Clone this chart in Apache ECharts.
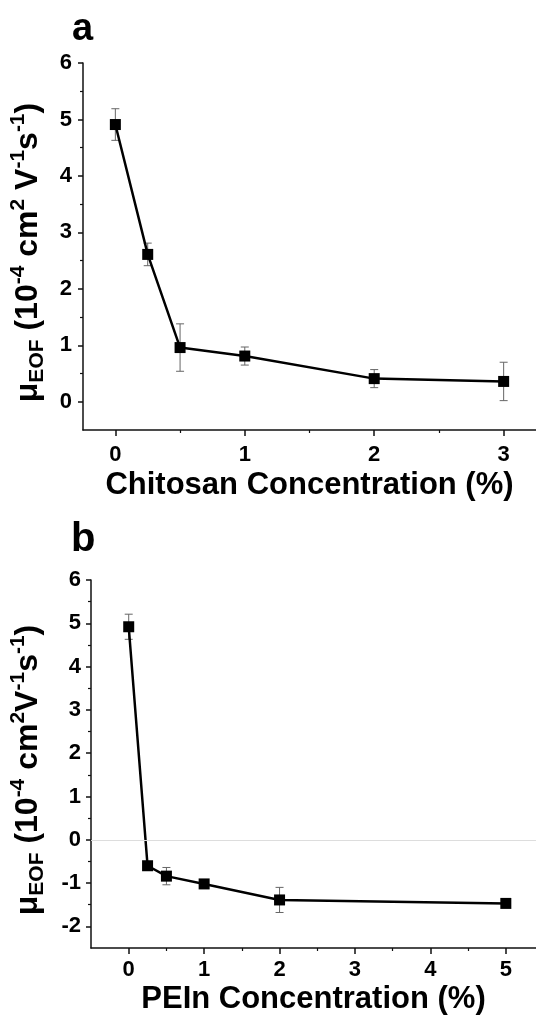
<!DOCTYPE html>
<html>
<head>
<meta charset="utf-8">
<script src="https://cdn.jsdelivr.net/npm/echarts@6/dist/echarts.min.js"></script>
<style>
  html, body { margin: 0; padding: 0; background: #fff; }
  #chart { width: 536px; height: 1016px; }
</style>
</head>
<body>
<div id="chart"></div>
<script>
// panel a - chitosan
var chitosanX = [0, 0.25, 0.5, 1, 2, 3]
var chitosanY = [4.91, 2.61, 0.96, 0.81, 0.41, 0.36]
var chitosanErr = [0.28, 0.2, 0.42, 0.16, 0.16, 0.34]

// panel b - PEIn
var peinX = [0, 0.25, 0.5, 1, 2, 5]
var peinY = [4.92, -0.6, -0.84, -1.02, -1.39, -1.47]
var peinErr = [0.29, 0, 0.2, 0, 0.29, 0]

// tick values
var xTicksA = [0, 1, 2, 3]
var xMinorA = [0.5, 1.5, 2.5]
var yTicksA = [0, 1, 2, 3, 4, 5, 6]
var yMinorA = [0.5, 1.5, 2.5, 3.5, 4.5, 5.5]
var xTicksB = [0, 1, 2, 3, 4, 5]
var xMinorB = [0.5, 1.5, 2.5, 3.5, 4.5]
var yTicksB = [-2, -1, 0, 1, 2, 3, 4, 5, 6]
var yMinorB = [-1.5, -0.5, 0.5, 1.5, 2.5, 3.5, 4.5, 5.5]

var FONT = '"Liberation Sans", Arial, sans-serif'

var myChart = echarts.init(document.getElementById('chart'), null, {renderer: 'canvas'})

function pairs (xs, ys) {
  return xs.map(function (x, i) { return [x, ys[i]] })
}

// y 轴标题 (rich text)
function yName (space) {
  return '{t|μ}{sub|EOF}{t| (10}{sup|-4}{t| cm}{sup|2}{t|' + space + 'V}{sup|-1}{t|s}{sup|-1}{t|)}'
}
var yRich = {
  t: {fontSize: 32, fontWeight: 'bold', fontFamily: FONT, color: '#000', lineHeight: 40, verticalAlign: 'middle'},
  sup: {fontSize: 21, fontWeight: 'bold', fontFamily: FONT, color: '#000', lineHeight: 21, verticalAlign: 'top'},
  sub: {fontSize: 21, fontWeight: 'bold', fontFamily: FONT, color: '#000', lineHeight: 21, verticalAlign: 'bottom'}
}

function mainX (grid, min, max, ticks, name, gap, margin) {
  return {
    type: 'value', gridIndex: grid, position: 'bottom', min: min, max: max,
    name: name, nameLocation: 'middle', nameGap: gap,
    nameTextStyle: {fontSize: 31, fontWeight: 'bold', fontFamily: FONT, color: '#000'},
    axisLine: {show: true, onZero: false, lineStyle: {color: '#111', width: 1.5}},
    axisTick: {show: true, customValues: ticks, length: 6, lineStyle: {color: '#111', width: 1.5}},
    axisLabel: {customValues: ticks, margin: margin, fontSize: 22, fontWeight: 'bold', fontFamily: FONT, color: '#000'},
    splitLine: {show: false}
  }
}
function minorX (grid, min, max, ticks) {
  return {
    type: 'value', gridIndex: grid, position: 'bottom', min: min, max: max,
    axisLine: {show: false, onZero: false},
    axisTick: {show: true, customValues: ticks, length: 3, lineStyle: {color: '#111', width: 1.2}},
    axisLabel: {show: false},
    splitLine: {show: false}
  }
}
function mainY (grid, min, max, ticks, gap, margin, space) {
  return {
    type: 'value', gridIndex: grid, position: 'left', min: min, max: max,
    name: yName(space), nameLocation: 'middle', nameGap: gap, nameRotate: 90,
    nameTextStyle: {rich: yRich, padding: [0, 0, 0, -12]},
    axisLine: {show: true, onZero: false, lineStyle: {color: '#111', width: 1.5}},
    axisTick: {show: true, customValues: ticks, length: 5, lineStyle: {color: '#111', width: 1.5}},
    axisLabel: {customValues: ticks, margin: margin, fontSize: 22, fontWeight: 'bold', fontFamily: FONT, color: '#000'},
    splitLine: {show: false}
  }
}
function minorY (grid, min, max, ticks) {
  return {
    type: 'value', gridIndex: grid, position: 'left', min: min, max: max,
    axisLine: {show: false, onZero: false},
    axisTick: {show: true, customValues: ticks, length: 3, lineStyle: {color: '#111', width: 1.2}},
    axisLabel: {show: false},
    splitLine: {show: false}
  }
}

function lineSeries (xs, ys, xi, yi, extra) {
  var s = {
    type: 'line', xAxisIndex: xi, yAxisIndex: yi,
    data: pairs(xs, ys),
    symbol: 'rect', symbolSize: 11,
    itemStyle: {color: '#000'},
    lineStyle: {color: '#000', width: 2.5},
    z: 3
  }
  if (extra) s.markLine = extra
  return s
}

// 误差棒
function errorSeries (xs, ys, errs, xi, yi) {
  var data = []
  xs.forEach(function (x, i) {
    if (errs[i] > 0) data.push([x, ys[i] - errs[i], ys[i] + errs[i]])
  })
  return {
    type: 'custom', xAxisIndex: xi, yAxisIndex: yi, data: data, z: 2,
    renderItem: function (params, api) {
      var lo = api.coord([api.value(0), api.value(1)])
      var hi = api.coord([api.value(0), api.value(2)])
      var w = 4
      var style = {stroke: '#666', lineWidth: 1}
      return {
        type: 'group',
        children: [
          {type: 'line', shape: {x1: lo[0], y1: lo[1], x2: hi[0], y2: hi[1]}, style: style},
          {type: 'line', shape: {x1: hi[0] - w, y1: hi[1], x2: hi[0] + w, y2: hi[1]}, style: style},
          {type: 'line', shape: {x1: lo[0] - w, y1: lo[1], x2: lo[0] + w, y2: lo[1]}, style: style}
        ]
      }
    }
  }
}

var option = {
  animation: false,
  backgroundColor: '#fff',
  title: [
    {text: 'a', left: 67, top: 6, textStyle: {fontSize: 38, fontWeight: 'bold', fontFamily: FONT, color: '#000'}},
    {text: 'b', left: 66, top: 515, textStyle: {fontSize: 40, fontWeight: 'bold', fontFamily: FONT, color: '#000'}}
  ],
  grid: [
    {left: 80, top: 63, right: 0, height: 367},
    {left: 88, top: 580, right: 0, height: 368}
  ],
  xAxis: [
    mainX(0, -0.25, 3.25, xTicksA, 'Chitosan Concentration (%)', 40, 14),
    minorX(0, -0.25, 3.25, xMinorA),
    mainX(1, -0.5, 5.4, xTicksB, 'PEIn Concentration (%)', 36, 11),
    minorX(1, -0.5, 5.4, xMinorB)
  ],
  yAxis: [
    mainY(0, -0.5, 6, yTicksA, 35, 11, ' '),
    minorY(0, -0.5, 6, yMinorA),
    mainY(1, -2.5, 6, yTicksB, 43, 10, ''),
    minorY(1, -2.5, 6, yMinorB)
  ],
  series: [
    errorSeries(chitosanX, chitosanY, chitosanErr, 0, 0),
    lineSeries(chitosanX, chitosanY, 0, 0),
    errorSeries(peinX, peinY, peinErr, 2, 2),
    lineSeries(peinX, peinY, 2, 2, {
      silent: true, symbol: 'none', label: {show: false},
      lineStyle: {color: '#ddd', width: 1, type: 'solid'},
      data: [{yAxis: 0}]
    })
  ]
}
myChart.setOption(option)
</script>
</body>
</html>
